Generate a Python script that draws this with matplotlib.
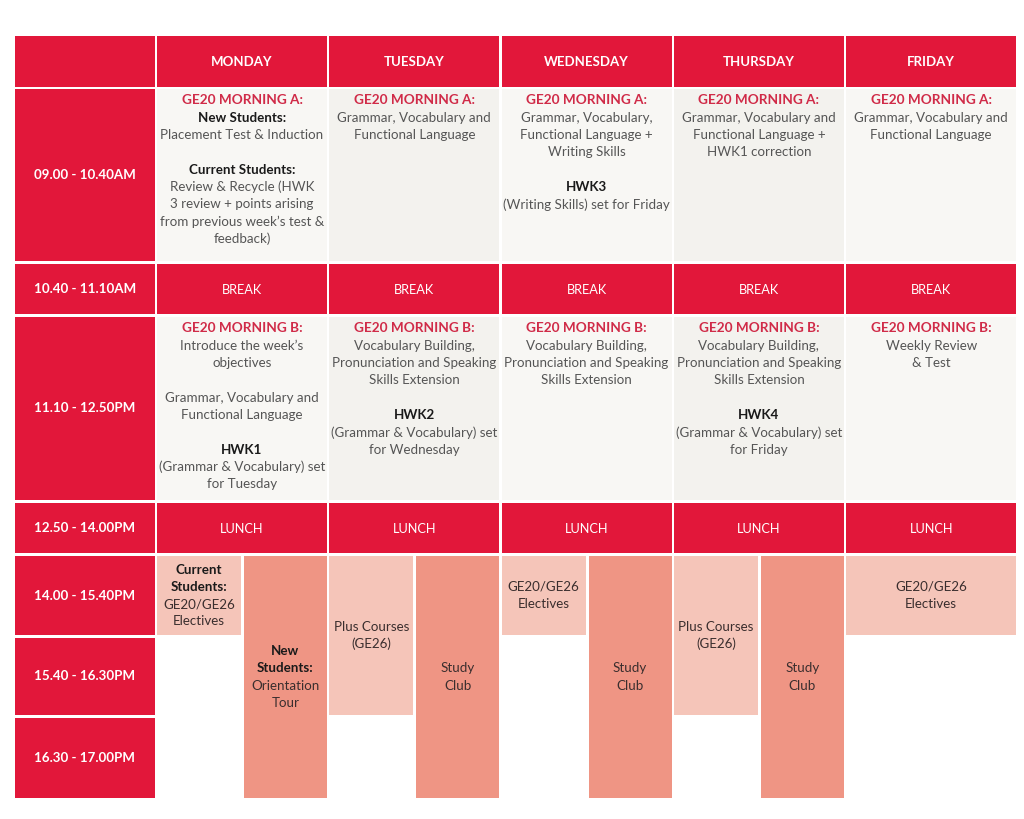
import matplotlib.pyplot as plt
from matplotlib.patches import Rectangle

# ---- timetable content ----
days = ['MONDAY', 'TUESDAY', 'WEDNESDAY', 'THURSDAY', 'FRIDAY']
times = ['09.00 - 10.40AM', '10.40 - 11.10AM', '11.10 - 12.50PM', '12.50 - 14.00PM',
         '14.00 - 15.40PM', '15.40 - 16.30PM', '16.30 - 17.00PM']

# '#' = red title, '*' = bold, '' = blank line
morning_a = [
    ['#GE20 MORNING A:', '*New Students:', 'Placement Test & Induction', '',
     '*Current Students:', 'Review & Recycle (HWK', '3 review + points arising',
     'from previous week\u2019s test &', 'feedback)'],
    ['#GE20 MORNING A:', 'Grammar, Vocabulary and', 'Functional Language'],
    ['#GE20 MORNING A:', 'Grammar, Vocabulary,', 'Functional Language +', 'Writing Skills', '',
     '*HWK3', '(Writing Skills) set for Friday'],
    ['#GE20 MORNING A:', 'Grammar, Vocabulary and', 'Functional Language +', 'HWK1 correction'],
    ['#GE20 MORNING A:', 'Grammar, Vocabulary and', 'Functional Language'],
]
break_labels = ['BREAK'] * 5
morning_b = [
    ['#GE20 MORNING B:', 'Introduce the week\u2019s', 'objectives', '', 'Grammar, Vocabulary and',
     'Functional Language', '', '*HWK1', '(Grammar & Vocabulary) set', 'for Tuesday'],
    ['#GE20 MORNING B:', 'Vocabulary Building,', 'Pronunciation and Speaking', 'Skills Extension', '',
     '*HWK2', '(Grammar & Vocabulary) set', 'for Wednesday'],
    ['#GE20 MORNING B:', 'Vocabulary Building,', 'Pronunciation and Speaking', 'Skills Extension'],
    ['#GE20 MORNING B:', 'Vocabulary Building,', 'Pronunciation and Speaking', 'Skills Extension', '',
     '*HWK4', '(Grammar & Vocabulary) set', 'for Friday'],
    ['#GE20 MORNING B:', 'Weekly Review', '& Test'],
]
lunch_labels = ['LUNCH'] * 5

# afternoon blocks: (day, part, first slot, last slot, shade, lines)
# part: 'L' left half, 'R' right half, 'F' full width; slots index into times
afternoon = [
    (0, 'L', 4, 4, 'light', ['*Current', '*Students:', 'GE20/GE26', 'Electives']),
    (0, 'R', 4, 6, 'dark', ['*New', '*Students:', 'Orientation', 'Tour']),
    (1, 'L', 4, 5, 'light', ['Plus Courses', '(GE26)']),
    (1, 'R', 4, 6, 'dark', ['Study', 'Club']),
    (2, 'L', 4, 4, 'light', ['GE20/GE26', 'Electives']),
    (2, 'R', 4, 6, 'dark', ['Study', 'Club']),
    (3, 'L', 4, 5, 'light', ['Plus Courses', '(GE26)']),
    (3, 'R', 4, 6, 'dark', ['Study', 'Club']),
    (4, 'F', 4, 4, 'light', ['GE20/GE26', 'Electives']),
]

# ---- layout / style ----
RED = '#E2173A'
TITLE_RED = '#D02B48'
BODY = '#555555'
DARK = '#1A1A1A'
AFT_TEXT = '#3A2E2E'
SHADES = {'light': '#F5C5B9', 'dark': '#EF9584'}
CELL_BG = ['#F8F7F4', '#F3F2EE']
FONT = 'Lato'
SIZE = 9.6

time_x = (15, 155)
day_x0, day_w, day_step = 157, 170, 172.3
header_y = (36, 87)
row_tops = [89, 264, 317, 503, 556, 638, 718]
row_bots = [261, 314, 500, 553, 635, 715, 798]
line_h = 17.3

fig = plt.figure(figsize=(10.24, 8.19), dpi=100)
ax = fig.add_axes([0, 0, 1, 1])
ax.set_xlim(0, 1024)
ax.set_ylim(819, 0)
ax.axis('off')


def box(x0, x1, y0, y1, color):
    ax.add_patch(Rectangle((x0, y0), x1 - x0, y1 - y0, facecolor=color, edgecolor='none'))


def write_lines(lines, xc, y_first, size=SIZE, default_color=BODY):
    y = y_first
    for ln in lines:
        if ln.startswith('#'):
            ax.text(xc, y, ln[1:], ha='center', va='center', fontsize=size + 0.2,
                    fontweight='bold', color=TITLE_RED, family=FONT)
        elif ln.startswith('*'):
            ax.text(xc, y, ln[1:], ha='center', va='center', fontsize=size,
                    fontweight='bold', color=DARK, family=FONT)
        elif ln:
            ax.text(xc, y, ln, ha='center', va='center', fontsize=size,
                    color=default_color, family=FONT)
        y += line_h


def day_span(d):
    x0 = day_x0 + d * day_step
    return x0, x0 + day_w


# header row
box(time_x[0], time_x[1], header_y[0], header_y[1], RED)
for d, name in enumerate(days):
    x0, x1 = day_span(d)
    box(x0, x1, header_y[0], header_y[1], RED)
    ax.text((x0 + x1) / 2, sum(header_y) / 2 + 1, name, ha='center', va='center',
            fontsize=9.5, fontweight='bold', color='white', family=FONT)

# time column
for r, label in enumerate(times):
    box(time_x[0], time_x[1], row_tops[r], row_bots[r], RED)
    ax.text(sum(time_x) / 2, (row_tops[r] + row_bots[r]) / 2, label, ha='center', va='center',
            fontsize=9.6, fontweight='bold', color='white', family=FONT)

# morning sessions, break and lunch
for d in range(len(days)):
    x0, x1 = day_span(d)
    xc = (x0 + x1) / 2
    for r, content in ((0, morning_a[d]), (2, morning_b[d])):
        box(x0, x1, row_tops[r], row_bots[r], CELL_BG[d % 2])
        write_lines(content, xc, row_tops[r] + 11.5)
    for r, label in ((1, break_labels[d]), (3, lunch_labels[d])):
        box(x0, x1, row_tops[r], row_bots[r], RED)
        ax.text(xc, (row_tops[r] + row_bots[r]) / 2 + 1, label, ha='center', va='center',
                fontsize=9.2, color='white', family=FONT)

# afternoon blocks
for d, part, r0, r1, shade, lines in afternoon:
    x0, x1 = day_span(d)
    if part == 'L':
        x1 = x0 + 84
    elif part == 'R':
        x0 = x0 + 87
    y0, y1 = row_tops[r0], row_bots[r1]
    box(x0, x1, y0, y1, SHADES[shade])
    yc = (y0 + y1) / 2
    write_lines(lines, (x0 + x1) / 2, yc - (len(lines) - 1) * line_h / 2,
                default_color=AFT_TEXT)

fig.savefig('out.png', dpi=100, facecolor='white')
